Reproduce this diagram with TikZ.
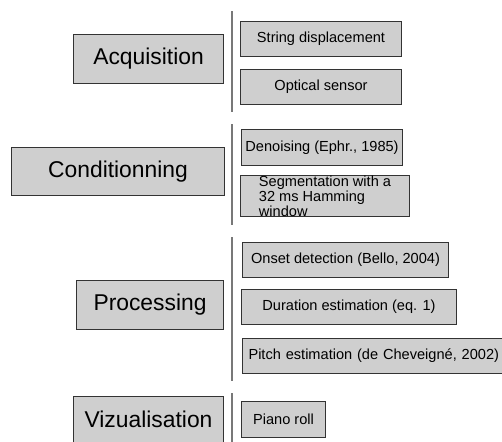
\documentclass[tikz,border=0pt]{standalone}
\usepackage{fontspec}
\setmainfont{Liberation Sans}
\usetikzlibrary{positioning}

\begin{document}
\begin{tikzpicture}[
  x=0.02cm, y=-0.02cm,
  every node/.style={align=center},
  %% --- styles ---------------------------------------------------
  stage/.style={
    draw=black!80, fill=black!19, line width=0.6pt, anchor=north west,
    inner sep=0pt, font=\fontsize{13}{15}\selectfont},
  method/.style={
    draw=black!80, fill=black!19, line width=0.6pt, anchor=north west,
    inner sep=0pt, minimum height=0.7cm, font=\fontsize{8.3}{8.2}\selectfont},
  sep/.style={draw=black!53, line width=0.9pt}
]
  \useasboundingbox (0,0) rectangle (502,441);
  \clip (0,0) rectangle (502,441);

  %% --- stages (left column) -------------------------------------
  \node[stage, minimum width=3cm, minimum height=0.98cm] (acq) at (73,34) {Acquisition};
  \node[stage, minimum width=4.26cm, minimum height=0.96cm] (cond) at (11,147) {Conditionning};
  \node[stage, minimum width=2.94cm, minimum height=0.98cm] (proc) at (76,280) {Processing};
  \node[stage, minimum width=3cm, minimum height=1.1cm, text depth=0.18cm] (vizu) at (73,396) {Vizualisation};

  %% --- separators -----------------------------------------------
  \foreach \ya/\yb in {11/112, 124/225, 237/381, 393/445}
    \draw[sep] (232,\ya) -- (232,\yb);

  %% --- methods (right column) -----------------------------------
  \node[method, minimum width=3.22cm] (strdisp) at (240,21) {String displacement};
  \node[method, minimum width=3.22cm, below=0.24cm of strdisp.south west, anchor=north west] (optic) {Optical sensor};

  \node[method, minimum width=3.22cm, minimum height=0.72cm] (denois) at (241,129) {Denoising (Ephr., 1985)};
  \node[method, minimum width=3.38cm, minimum height=0.8cm, align=left,
        font=\fontsize{8.3}{8.6}\selectfont,
        below=0.18cm of denois.south west, anchor=north west, xshift=-0.02cm] (segm)
        {Segmentation with a\\32 ms Hamming\\window};

  \node[method, minimum width=4.12cm] (onset) at (242,242) {Onset detection (Bello, 2004)};
  \node[method, minimum width=4.3cm, below=0.22cm of onset.south west, anchor=north west, xshift=-0.02cm] (durat) {Duration estimation (eq. 1)};
  \node[method, text width=5.2cm, inner xsep=0.12cm, align=left,
        below=0.26cm of durat.south west, anchor=north west, xshift=0.02cm] (pitch) {Pitch estimation (de Cheveigné, 2002)};

  \node[method, minimum width=1.68cm, minimum height=0.72cm] (piano) at (241,401) {Piano roll};
\end{tikzpicture}
\end{document}
